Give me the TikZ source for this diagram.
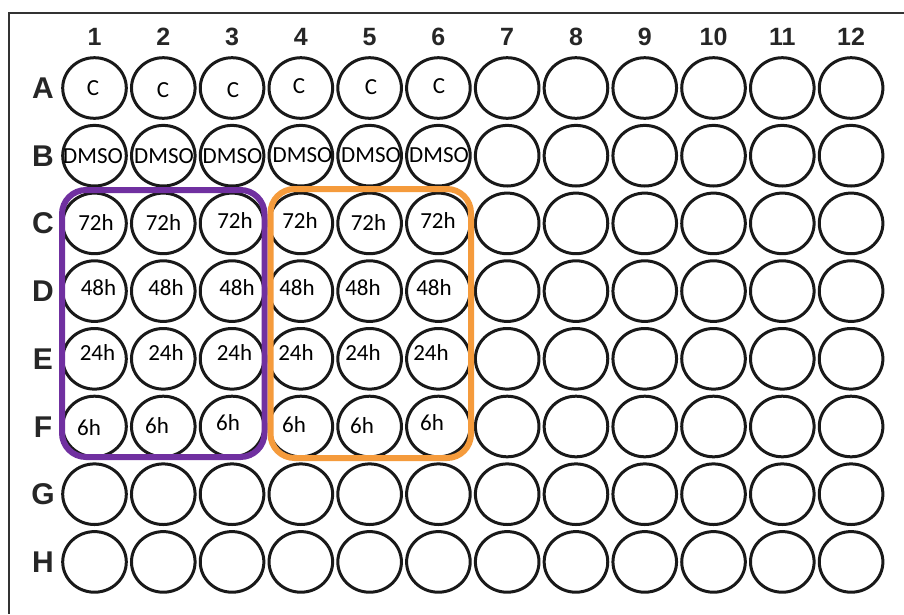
\documentclass[tikz,border=0pt]{standalone}
\usepackage{fontspec}
\setmainfont{Carlito}
\newfontfamily\headfont{Liberation Sans}
\usetikzlibrary{shapes.geometric}
\definecolor{plpurple}{HTML}{7030A0}
\definecolor{plorange}{HTML}{F59B3C}
\definecolor{framegray}{HTML}{333333}
\tikzset{
  well/.style={ellipse, draw=black!90, line width=3pt, minimum width=63.6pt, minimum height=60.6pt, inner sep=0pt, outer sep=0pt},
  lbl/.style={anchor=base, inner sep=0pt, font=\fontsize{23pt}{26pt}\selectfont},
  colhead/.style={anchor=base, inner sep=0pt, font=\headfont\bfseries\fontsize{25pt}{28pt}\selectfont, text=black!85},
  rowhead/.style={anchor=base, inner sep=0pt, font=\headfont\bfseries\fontsize{30pt}{32pt}\selectfont, text=black!85},
  groupbox/.style={line width=6pt, rounded corners=24pt}
}
\begin{document}
\begin{tikzpicture}[x=1pt,y=-1pt]
\useasboundingbox (0,0) rectangle (904,614);
\fill[white] (0,0) rectangle (904,614);
% frame
\draw[framegray, line width=1.5pt] (904,13) -- (9,13) -- (9,614);
% column headers
\foreach \c in {1,...,12} {
  \pgfmathsetmacro{\cx}{94.5+(\c-1)*68.78}
  \node[colhead] (col\c) at (\cx,45) {\c};
}
% rows and wells
\foreach \r [count=\i from 0] in {A,B,C,D,E,F,G,H} {
  \pgfmathsetmacro{\ry}{88+\i*67.7}
  \pgfmathsetmacro{\rb}{\ry+10.5}
  \node[rowhead] (row\r) at (43,\rb) {\r};
  \foreach \c in {1,...,12} {
    \pgfmathsetmacro{\cx}{94.5+(\c-1)*68.78}
    \node[well] (w\r\c) at (\cx,\ry) {};
  }
}
% well labels
\foreach \x/\y [count=\k] in {93/95,163/97,233/97,299/93,371/94,439/93}
  \node[lbl] (tA\k) at (\x,\y) {C};
\foreach \x/\y [count=\k] in {93/163,164/163,232.5/163,302.5/162,371/162,439/162}
  \node[lbl] (tB\k) at (\x,\y) {DMSO};
\foreach \x/\y [count=\k] in {96/230,163.5/230,235/228,300/228,368.5/230,438/228}
  \node[lbl] (tC\k) at (\x,\y) {72h};
\foreach \x/\y [count=\k] in {98.5/295,166/295,237/295,297/295,363/295,434/295}
  \node[lbl] (tD\k) at (\x,\y) {48h};
\foreach \x/\y [count=\k] in {97.5/360,166/360,234.5/360,296/360,363/360,431/360}
  \node[lbl] (tE\k) at (\x,\y) {24h};
\foreach \x/\y [count=\k] in {89/435,157/433,228/430,294/432,362/433,432/430}
  \node[lbl] (tF\k) at (\x,\y) {6h};
% group boxes
\draw[groupbox, plpurple] (62,190) rectangle (264.5,457);
\draw[groupbox, plorange] (270.5,189) rectangle (471,458);
\end{tikzpicture}
\end{document}
